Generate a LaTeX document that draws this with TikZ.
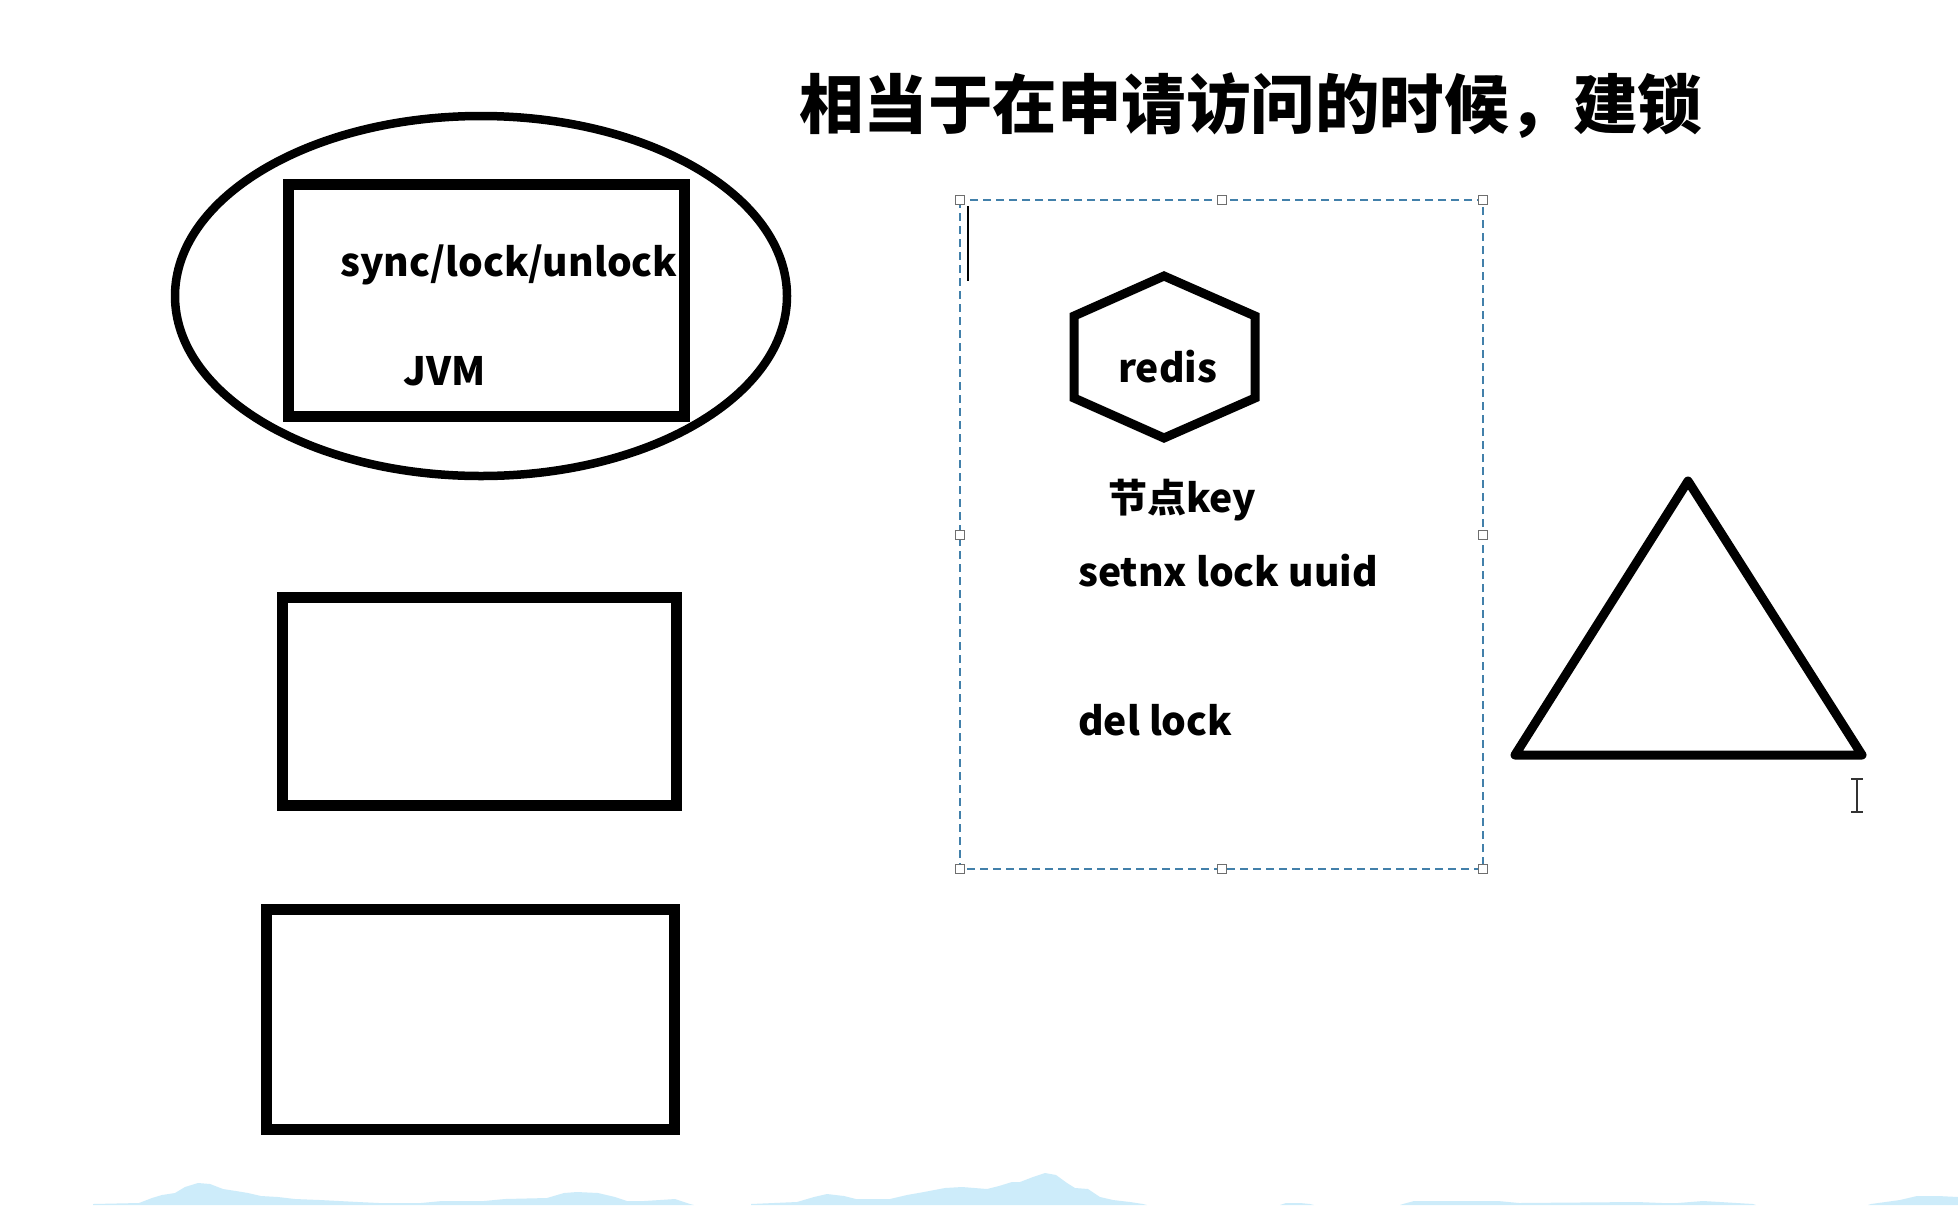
\documentclass[tikz,border=0pt]{standalone}
\usepackage{fontspec}
\newfontfamily\cjk{Noto Sans CJK SC}
\definecolor{dashblue}{RGB}{66,128,170}
\definecolor{handlegray}{RGB}{110,110,110}
\definecolor{cloudblue}{RGB}{205,236,250}
\tikzset{
  thickline/.style={line width=8.5pt, draw=black},
  boxline/.style={line width=11pt, draw=black},
  lbl/.style={inner sep=0pt, font=\cjk\bfseries\fontsize{39}{42}\selectfont, anchor=base west},
  handle/.style={draw=handlegray, fill=white, line width=1.5pt, minimum size=9pt, inner sep=0pt, rectangle},
}
\begin{document}
\begin{tikzpicture}[x=1pt,y=-1pt]
\useasboundingbox (0,0) rectangle (1958,1205);
\fill[white] (0,0) rectangle (1958,1205);

% bottom clouds
\fill[cloudblue] (93,1205) -- (93,1204) -- (139,1203) -- (152,1198) -- (162,1195) -- (175,1193) -- (185,1187) -- (198,1183) -- (210,1184) -- (223,1189) -- (236,1191) -- (248,1193) -- (261,1196) -- (278,1197) -- (295,1199) -- (320,1200) -- (358,1202) -- (379,1203) -- (421,1203) -- (442,1201) -- (484,1201) -- (505,1199) -- (547,1198) -- (564,1193) -- (577,1192) -- (598,1193) -- (615,1197) -- (627,1201) -- (644,1201) -- (660,1200) -- (675,1199) -- (690,1204) -- (694,1205) -- cycle;
\fill[cloudblue] (751,1205) -- (751,1204) -- (797,1202) -- (814,1197) -- (827,1194) -- (844,1196) -- (856,1199) -- (890,1199) -- (907,1195) -- (924,1192) -- (945,1188) -- (962,1187) -- (987,1189) -- (999,1186) -- (1012,1182) -- (1020,1182) -- (1033,1177) -- (1045,1173) -- (1056,1175) -- (1067,1183) -- (1075,1188) -- (1088,1189) -- (1100,1197) -- (1113,1200) -- (1130,1202) -- (1143,1204) -- (1147,1205) -- cycle;
\fill[cloudblue] (1280,1205) -- (1286,1203) -- (1300,1203) -- (1310,1204) -- (1314,1205) -- cycle;
\fill[cloudblue] (1400,1205) -- (1403,1204) -- (1414,1201) -- (1498,1201) -- (1519,1203) -- (1637,1202) -- (1662,1203) -- (1678,1203) -- (1703,1201) -- (1720,1202) -- (1753,1204) -- (1756,1205) -- cycle;
\fill[cloudblue] (1868,1205) -- (1871,1204) -- (1900,1200) -- (1917,1196) -- (1938,1196) -- (1958,1197) -- (1958,1205) -- cycle;

% title
\node[inner sep=0pt, anchor=west, font=\cjk\bfseries\fontsize{64.5}{70}\selectfont] (title) at (799,106) {相当于在申请访问的时候，建锁};

% left: ellipse and JVM box
\draw[thickline] (481,296) ellipse [x radius=306, y radius=180];
\draw[boxline] (288,184) rectangle (684,416);
\node[lbl] (sync) at (340,276) {sync/lock/unlock};
\node[lbl] (jvm) at (403,385) {JVM};

% left: two empty boxes
\draw[boxline] (282,597) rectangle (676,805);
\draw[boxline] (266,909) rectangle (674,1129);

% dashed selection box
\draw[dashblue, line width=2pt, dash pattern=on 8pt off 5pt] (960,200) rectangle (1483,869);
\foreach \px/\py in {960/200, 1222/200, 1483/200, 960/535, 1483/535, 960/869, 1222/869, 1483/869}
  \node[handle] at (\px,\py) {};
\draw[black, line width=2pt] (968,206) -- (968,281);

% hexagon
\draw[line width=9pt, line join=miter] (1164,276) -- (1255,316) -- (1255,398) -- (1164,438) -- (1074,398) -- (1074,316) -- cycle;
\node[lbl] (redis) at (1118,382) {redis};
\node[lbl] (key) at (1108,512) {节点key};
\node[lbl] (setnx) at (1078,586) {setnx lock uuid};
\node[lbl] (del) at (1078,735) {del lock};

% triangle
\draw[line width=9pt, line join=round] (1688,481) -- (1862,755) -- (1515,755) -- cycle;

% text cursor
\draw[black!80, line width=2pt] (1857,779) -- (1857,812);
\draw[black!80, line width=1.5pt] (1851,779) -- (1863,779) (1851,812) -- (1863,812);
\end{tikzpicture}
\end{document}
